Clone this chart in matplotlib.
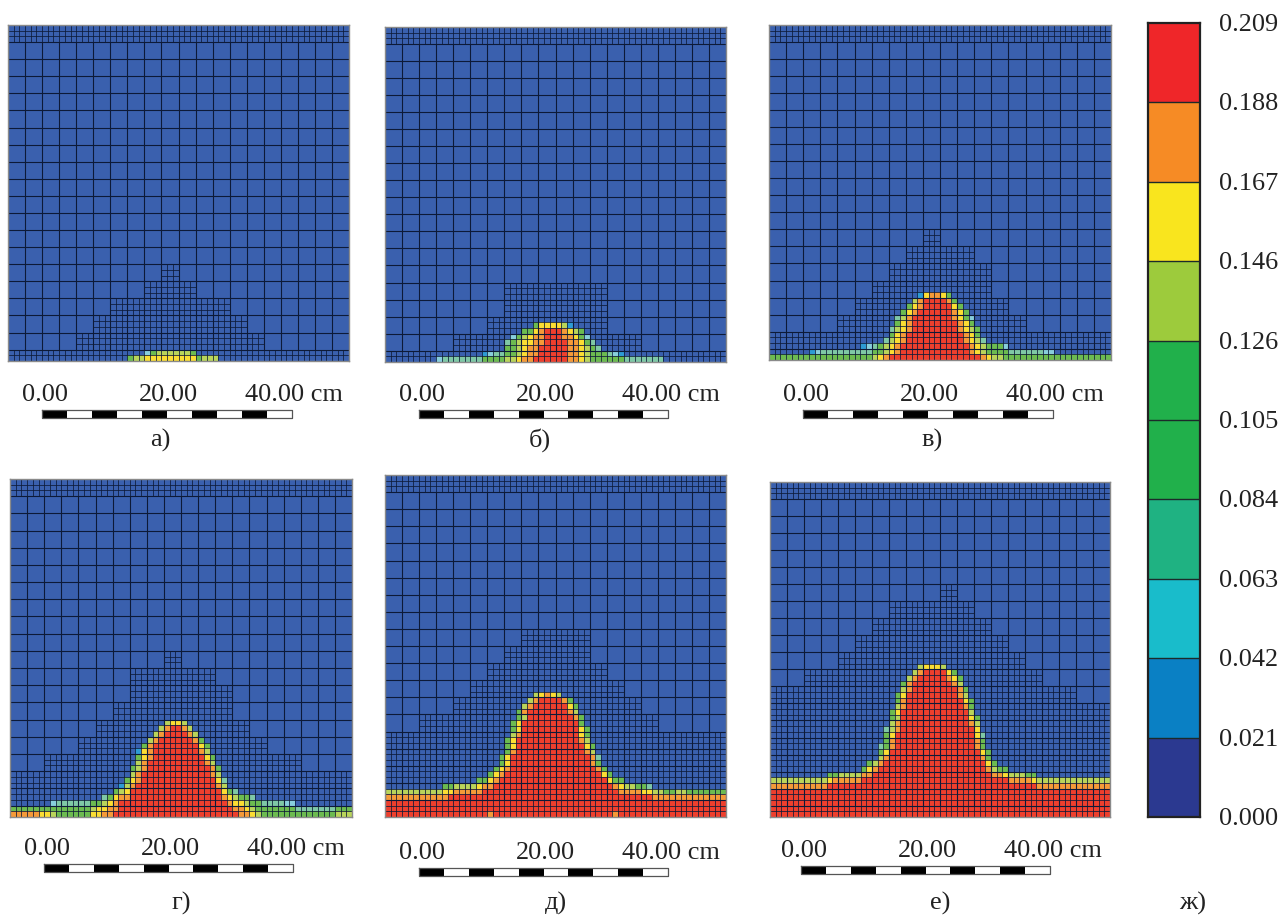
import numpy as np
import matplotlib
matplotlib.use('Agg')
import matplotlib.pyplot as plt
from matplotlib.colors import ListedColormap

W, H = 1283, 915
SERIF = 'Liberation Serif'
FS = 18.9

# colour scale
levels = ['0.000', '0.021', '0.042', '0.063', '0.084', '0.105', '0.126', '0.146', '0.167', '0.188', '0.209']
bar_colors = ['#2B3990', '#0A80C4', '#19BCCB', '#1FB282', '#21B04B', '#21B04B', '#9DCB3C', '#F9E51E', '#F68B25', '#EF2629']

# cell classes seen in the panels: . background, b blue, c cyan, t teal, g green, l lime, y yellow, o orange, r red
cell_keys = '.bctglyor'
cell_colors = ['#3A60AE', '#2E9BD4', '#88CEDC', '#7FC8A6', '#6CBB50', '#B9D45A', '#FBDD33', '#F59A38', '#EE3F2D']

# coloured cells, bottom row first: (first fine column, classes)
cells_a = [(21, 'gll' + 'y' * 9 + 'glll'),
           (24, 'cg' + 'l' * 6 + 'g')]

cells_b = [(9, 'c' + 't' * 7 + 'g' * 4 + 'll' + 'y' + 'oo' + 'r' * 6 + 'oo' + 'yl' + 'g' * 6 + 't' * 7),
           (17, 'bcttgglyoo' + 'r' * 5 + 'ooyl' + 'ggg' + 'tcb'),
           (21, 'gglyoo' + 'r' * 5 + 'ooylgt'),
           (21, 'tglyyoo' + 'r' * 4 + 'ooygt'),
           (22, 'cglyoorrrooygc'),
           (24, 'ggyorrroylg'),
           (26, 'gyyyylb')]

cells_c = [(0, 'g' * 18 + 'lyo' + 'r' * 16 + 'oyll' + 'g' * 19),
           (7, 'bc' + 't' * 9 + 'ggl' + 'yo' + 'r' * 12 + 'oyl' + 'gggg' + 't' * 6 + 'cc'),
           (16, 'bctgl' + 'yo' + 'r' * 12 + 'oyl' + 'ggg' + 'c'),
           (20, 'tlyo' + 'r' * 10 + 'oylt'),
           (21, 'gyo' + 'r' * 10 + 'oyg'),
           (21, 'tlyo' + 'r' * 8 + 'oylg'),
           (22, 'gyo' + 'r' * 8 + 'oyg'),
           (22, 'tlo' + 'r' * 7 + 'oygc'),
           (23, 'gyo' + 'r' * 6 + 'oyg'),
           (24, 'gyo' + 'r' * 5 + 'yg'),
           (25, 'lo' + 'r' * 4 + 'og'),
           (26, 'byooyg')]

cells_d = [(0, 'ooooo' + 'yyl' + 'g' * 6 + 'yyoo' + 'r' * 22 + 'ooyl' + 'g' * 13 + 'lll'),
           (0, 'g' * 14 + 'lyyoo' + 'r' * 20 + 'ooyl' + 'g' * 7 + 't' * 7 + 'ggg'),
           (7, 'c' + 't' * 6 + 'gglyo' + 'r' * 19 + 'oyylgg' + 't' * 4 + 'cc'),
           (16, 'tgyoo' + 'r' * 16 + 'oylggt'),
           (18, 'gly' + 'r' * 16 + 'ygt'),
           (19, 'blo' + 'r' * 14 + 'ol'),
           (20, 'gyo' + 'r' * 13 + 'yt'),
           (21, 'lo' + 'r' * 12 + 'ol'),
           (21, 'glo' + 'r' * 11 + 'og'),
           (22, 'lo' + 'r' * 10 + 'ol'),
           (22, 'gyo' + 'r' * 9 + 'yg'),
           (22, 'byo' + 'r' * 8 + 'ol'),
           (23, 'go' + 'r' * 8 + 'yg'),
           (24, 'lo' + 'r' * 6 + 'og'),
           (25, 'lorrrrol'),
           (26, 'lorrol'),
           (27, 'lyyl')]

cells_e = [(0, 'r' * 18 + 'o' + 'r' * 21 + 'o' + 'r' * 19),
           (0, 'r' * 60),
           (0, 'r' * 60),
           (0, 'o' * 11 + 'r' * 36 + 'o' * 13),
           (0, 'l' * 10 + 'yy' + 'o' * 5 + 'r' * 24 + 'oooo' + 'yy' + 'llggllggggggg'),
           (10, 'gg' + 'llll' + 'yoo' + 'r' * 21 + 'oyllggt'),
           (16, 'ggyo' + 'r' * 19 + 'ygg'),
           (18, 'gyo' + 'r' * 17 + 'yg'),
           (19, 'gyo' + 'r' * 15 + 'og'),
           (20, 'gy' + 'r' * 14 + 'og'),
           (20, 'gy' + 'r' * 14 + 'ot'),
           (21, 'go' + 'r' * 12 + 'ol'),
           (21, 'gy' + 'r' * 12 + 'yg'),
           (21, 'gy' + 'r' * 11 + 'ol'),
           (22, 'lo' + 'r' * 10 + 'yg'),
           (22, 'gy' + 'r' * 10 + 'yg'),
           (22, 'gy' + 'r' * 10 + 'g'),
           (23, 'gl' + 'r' * 8 + 'og'),
           (23, 'go' + 'r' * 7 + 'ol'),
           (24, 'lo' + 'r' * 6 + 'yg'),
           (25, 'lo' + 'r' * 4 + 'og'),
           (26, 'lyoyl')]

cells_f = [(0, 'r' * 60),
           (0, 'r' * 60),
           (0, 'r' * 60),
           (0, 'r' * 60),
           (0, 'r' * 60),
           (0, 'o' * 10 + 'r' * 37 + 'o' * 13),
           (0, 'l' * 10 + 'y' + 'o' * 5 + 'r' * 26 + 'oooo' + 'y' + 'l' * 13),
           (10, 'gg' + 'llll' + 'oo' + 'r' * 21 + 'ooy' + 'lll' + 'gg'),
           (16, 'gyo' + 'r' * 19 + 'olgg'),
           (17, 'glo' + 'r' * 18 + 'yg'),
           (19, 'lo' + 'r' * 16 + 'og'),
           (19, 'gy' + 'r' * 16 + 'yg'),
           (19, 'tgo' + 'r' * 14 + 'og'),
           (20, 'go' + 'r' * 14 + 'og'),
           (20, 'gy' + 'r' * 14 + 'yt'),
           (20, 'tlo' + 'r' * 13 + 'y'),
           (21, 'lo' + 'r' * 12 + 'ol'),
           (21, 'gl' + 'r' * 12 + 'yg'),
           (21, 'gy' + 'r' * 12 + 'l'),
           (22, 'lo' + 'r' * 10 + 'og'),
           (22, 'go' + 'r' * 10 + 'yg'),
           (22, 'gy' + 'r' * 9 + 'ol'),
           (23, 'lo' + 'r' * 8 + 'og'),
           (23, 'go' + 'r' * 7 + 'ol'),
           (24, 'lo' + 'r' * 5 + 'oyg'),
           (25, 'lo' + 'r' * 4 + 'yg'),
           (26, 'lyyyl')]

# refined coarse columns per coarse row, bottom row first
refine_a = [(4, 15), (5, 14), (6, 13), (8, 11), (9, 10)]
refine_b = [(4, 15), (6, 13), (7, 13), (7, 13)]
refine_c = [(0, 20), (4, 15), (5, 14), (6, 13), (7, 13), (8, 12), (9, 10)]
refine_d = [(0, 20), (0, 20), (2, 17), (4, 15), (5, 14), (6, 13), (7, 13), (7, 12), (9, 10)]
refine_e = [(0, 20), (0, 20), (0, 20), (0, 20), (2, 16), (4, 15), (5, 14), (6, 13), (7, 12), (8, 12)]
refine_f = [(0, 20), (0, 20), (0, 20), (0, 20), (0, 20), (0, 20), (0, 18), (2, 16), (4, 15),
            (5, 14), (6, 13), (7, 12), (10, 11)]

captions = ['а)', 'б)', 'в)', 'г)', 'д)', 'е)']
panel_cells = [cells_a, cells_b, cells_c, cells_d, cells_e, cells_f]
panel_refine = [refine_a, refine_b, refine_c, refine_d, refine_e, refine_f]
panel_band = [2, 2, 2, 2, 3, 2]
# pixel box of each mesh: left, top, right, bottom
panel_box = [(8, 25, 349, 361), (385, 27, 726, 362), (769, 25, 1111, 360),
             (10, 479, 352, 817), (385, 475, 726, 817), (770, 482, 1110, 817)]
# scale bar: left, right, top, bottom; label baseline centre y; caption x, y
scale_box = [(42, 292, 410, 418), (419, 668, 410, 418), (803, 1053, 410, 418),
             (44, 293, 864, 872), (419, 668, 868, 876), (801, 1050, 866, 874)]
label_y = [395, 395, 395, 849, 853, 851]
caption_xy = [(160, 440), (540, 440), (932, 440), (181, 903), (556, 903), (940, 903)]
scale_labels = ['0.00', '20.00', '40.00 cm']
scale_offsets = [-20, 97, 203]

N_COL = 20
N_COARSE = 18
LINE = '#0d1a38'


def px_axes(fig, box, **kw):
    x0, y0, x1, y1 = box
    return fig.add_axes([x0 / W, 1 - y1 / H, (x1 - x0) / W, (y1 - y0) / H], **kw)


def draw_panel(ax, cells, refine, band):
    n_rows = band + N_COARSE * 3 + 3
    grid = np.zeros((n_rows, N_COL * 3), dtype=int)
    for r, (start, row) in enumerate(cells):
        grid[r, start:start + len(row)] = [cell_keys.index(c) for c in row]
    ax.pcolormesh(np.arange(N_COL * 3 + 1), np.arange(n_rows + 1), grid,
                  cmap=ListedColormap(cell_colors), vmin=0, vmax=len(cell_colors) - 1)

    # coarse mesh
    ax.vlines(np.arange(0, N_COL * 3 + 1, 3), band, n_rows - 3, color=LINE, lw=0.8)
    ax.hlines(band + np.arange(N_COARSE + 1) * 3, 0, N_COL * 3, color=LINE, lw=0.8)
    # bands at the bottom and at the top
    fine_x = np.arange(N_COL * 3 + 1)
    ax.vlines(fine_x, 0, band, color=LINE, lw=0.55)
    ax.vlines(fine_x, n_rows - 3, n_rows, color=LINE, lw=0.55)
    ax.hlines(np.arange(1, band), 0, N_COL * 3, color=LINE, lw=0.55)
    ax.hlines(np.arange(n_rows - 2, n_rows), 0, N_COL * 3, color=LINE, lw=0.55)
    # refined patches
    for k, (left, right) in enumerate(refine):
        y0 = band + k * 3
        ax.vlines(np.arange(left * 3, right * 3 + 1), y0, y0 + 3, color=LINE, lw=0.55)
        ax.hlines([y0, y0 + 1, y0 + 2, y0 + 3], left * 3, right * 3, color=LINE, lw=0.55)

    ax.set_xlim(0, N_COL * 3)
    ax.set_ylim(0, n_rows)
    ax.set_xticks([])
    ax.set_yticks([])
    for s in ax.spines.values():
        s.set_color('#8a8a8a')
        s.set_linewidth(1.0)


fig = plt.figure(figsize=(W / 100, H / 100), dpi=100)

# overlay in pixel units for scale bars and captions
over = fig.add_axes([0, 0, 1, 1])
over.set_xlim(0, W)
over.set_ylim(H, 0)
over.axis('off')

for i in range(6):
    ax = px_axes(fig, panel_box[i])
    draw_panel(ax, panel_cells[i], panel_refine[i], panel_band[i])

    x0, x1, y0, y1 = scale_box[i]
    edges = np.linspace(x0, x1, 11)
    for j in range(10):
        over.fill_between([edges[j], edges[j + 1]], y0, y1,
                          color='black' if j % 2 == 0 else 'white', lw=0)
    over.plot([x0, x1, x1, x0, x0], [y0, y0, y1, y1, y0], color='#555555', lw=0.9)
    for lab, off in zip(scale_labels, scale_offsets):
        over.text(x0 + off, label_y[i], lab, family=SERIF, fontsize=FS,
                  ha='left', va='center', color='#222222')
    cx, cy = caption_xy[i]
    over.text(cx, cy, captions[i], family=SERIF, fontsize=FS, ha='center', va='center', color='#222222')

over.text(1193, 903, 'ж)', family=SERIF, fontsize=FS, ha='center', va='center', color='#222222')

# colour bar
cax = px_axes(fig, (1148, 23, 1200, 817))
cax.pcolormesh([0, 1], np.arange(len(levels)), np.arange(len(bar_colors)).reshape(-1, 1),
               cmap=ListedColormap(bar_colors))
cax.hlines(np.arange(1, len(levels) - 1), 0, 1, color='#1c2a2a', lw=1.0)
cax.set_xlim(0, 1)
cax.set_ylim(0, len(levels) - 1)
cax.set_xticks([])
cax.set_yticks([])
for s in cax.spines.values():
    s.set_color('#222222')
    s.set_linewidth(1.6)
for k, lab in enumerate(levels):
    cax.annotate(lab, (1, k), xycoords=('axes fraction', 'data'), xytext=(19, -2),
                 textcoords='offset pixels', family=SERIF, fontsize=FS,
                 ha='left', va='center', color='#222222', annotation_clip=False)

fig.savefig('out.png', dpi=100)
